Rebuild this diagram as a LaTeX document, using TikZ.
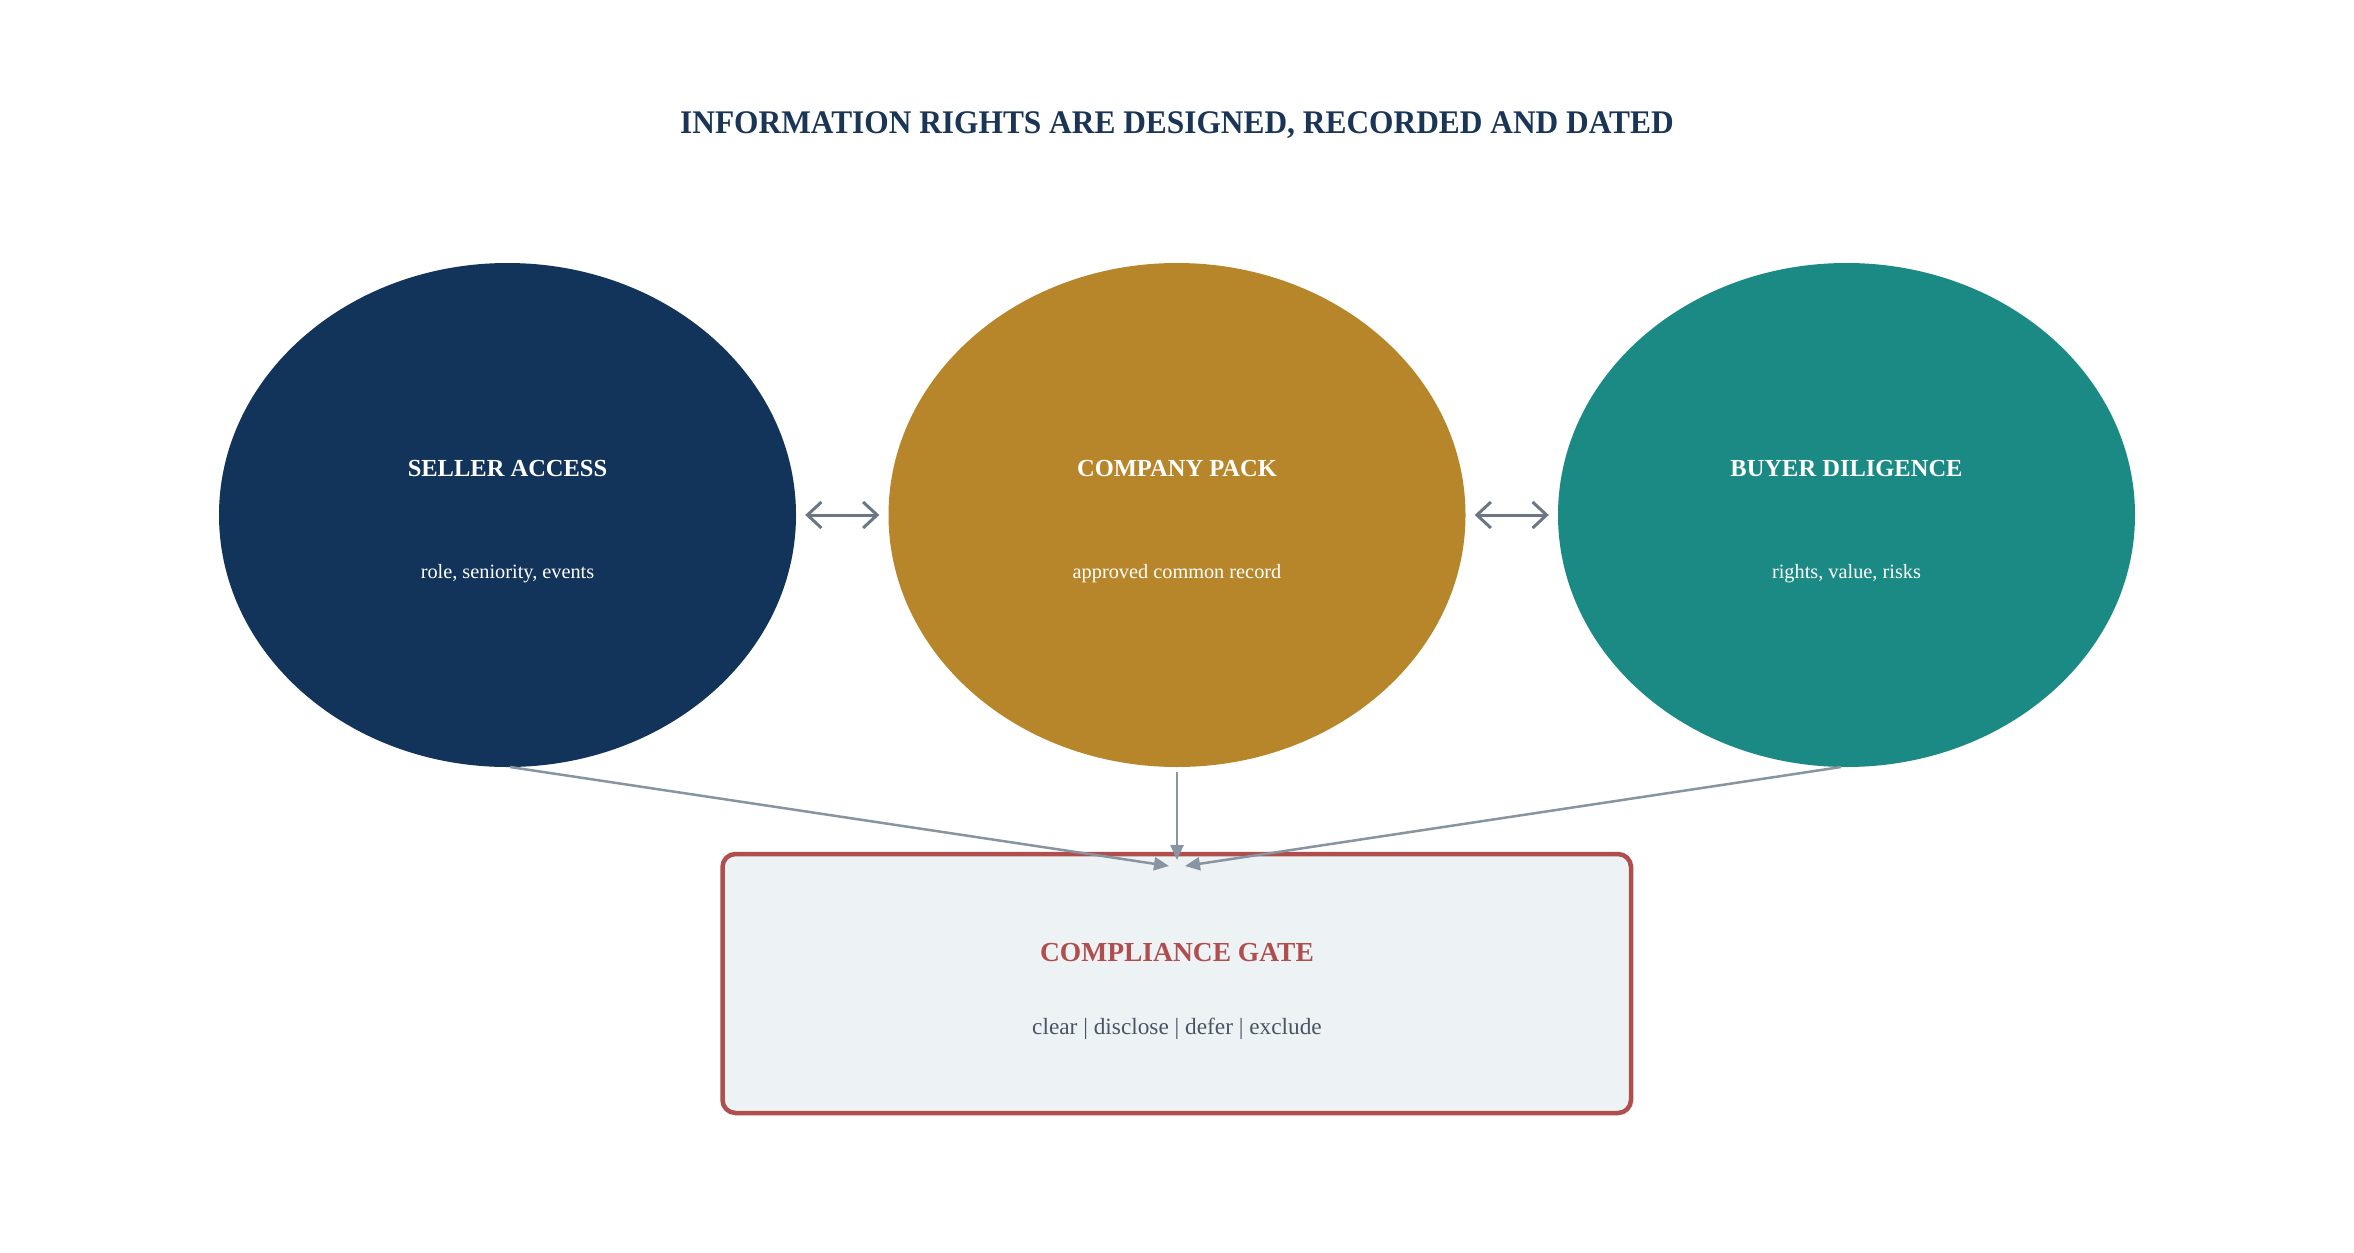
\documentclass[tikz,border=0pt]{standalone}
\usepackage{fontspec}
\usepackage{graphicx}
\setmainfont{Liberation Serif}
\usetikzlibrary{shapes.geometric,arrows.meta,calc}
\definecolor{navy}{HTML}{13345A}
\definecolor{gold}{HTML}{B8862A}
\definecolor{teal}{HTML}{1C8A84}
\definecolor{titlec}{HTML}{1A3556}
\definecolor{gatered}{HTML}{B04E4E}
\definecolor{gatefill}{HTML}{EDF2F5}
\definecolor{gatetext}{HTML}{4A5563}
\definecolor{linkc}{HTML}{8894A1}
\definecolor{dblc}{HTML}{6B7785}
\tikzset{
  blob/.style={ellipse, minimum width=577pt, minimum height=504pt, inner sep=0pt, draw=none},
  blobtitle/.style={anchor=base, text=white, font=\fontsize{24.5}{28}\selectfont\bfseries},
  blobsub/.style={anchor=base, text=white, font=\fontsize{20.3}{23}\selectfont},
  dbl/.style={draw=dblc, line width=3pt, {Straight Barb[length=14pt,width=26pt,line width=3pt]}-{Straight Barb[length=14pt,width=26pt,line width=3pt]}},
  feed/.style={draw=linkc, line width=2.5pt, -{Triangle[length=15pt,width=13pt]}},
}
\begin{document}
\begin{tikzpicture}[x=1pt,y=-1pt]
\useasboundingbox (0,0) rectangle (2354,1253);
\fill[white] (0,0) rectangle (2354,1253);
\node[anchor=base, text=titlec, font=\fontsize{33}{38}\selectfont\bfseries] (title) at (1177,133) {\scalebox{0.951}[1]{INFORMATION RIGHTS ARE DESIGNED, RECORDED AND DATED}};

\node[blob, fill=navy] (seller) at (507.5,515) {};
\node[blob, fill=gold] (company) at (1177,515) {};
\node[blob, fill=teal] (buyer) at (1846.5,515) {};

\node[blobtitle] (sellerT) at (507.5,476) {SELLER ACCESS};
\node[blobsub] (sellerS) at (507.5,578) {role, seniority, events};
\node[blobtitle] (companyT) at (1177,476) {COMPANY PACK};
\node[blobsub] (companyS) at (1177,578) {approved common record};
\node[blobtitle] (buyerT) at (1846.5,476) {BUYER DILIGENCE};
\node[blobsub] (buyerS) at (1846.5,578) {rights, value, risks};

\draw[rounded corners=13pt, draw=gatered, fill=gatefill, line width=4.5pt] (722.5,854) rectangle (1631,1113);
\coordinate (gateNW) at (722.5,854);
\node[anchor=base, text=gatered, font=\fontsize{27.5}{32}\selectfont\bfseries] (gateT) at (1177,961) {COMPLIANCE GATE};
\node[anchor=base, text=gatetext, font=\fontsize{23.3}{28}\selectfont] (gateS) at (1177,1034) {clear | disclose | defer | exclude};

\coordinate (inL) at (1169,866);
\coordinate (inM) at (1177,860);
\coordinate (inR) at (1185,866);
\coordinate (outL) at (510,767);
\coordinate (outM) at (1177,772);
\coordinate (outR) at (1841,767);
\draw[feed] (outL) -- (inL);
\draw[feed] (outM) -- (inM);
\draw[feed] (outR) -- (inR);

\draw[dbl] ($(seller.east)+(9,0)$) -- ($(company.west)+(-9,0)$);
\draw[dbl] ($(company.east)+(9,0)$) -- ($(buyer.west)+(-9,0)$);
\end{tikzpicture}
\end{document}
